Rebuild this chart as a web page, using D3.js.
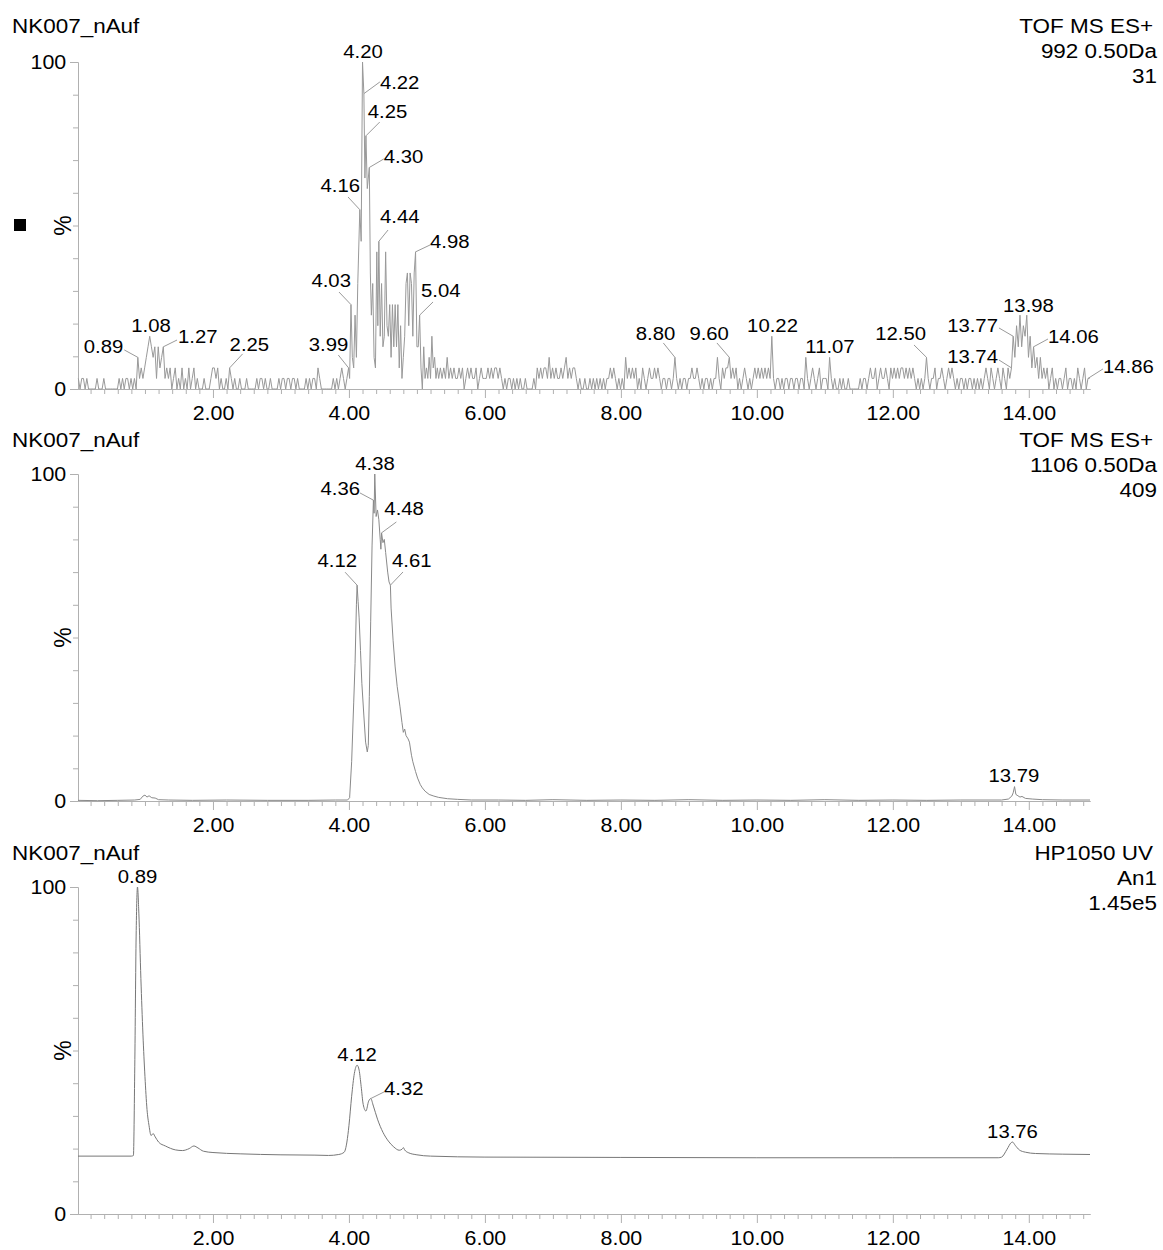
<!DOCTYPE html>
<html>
<head>
<meta charset="utf-8">
<script src="https://cdn.jsdelivr.net/npm/d3@7"></script>
<style>
  body { margin: 0; background: #fff; }
  svg { display: block; }
  text { font-family: "Liberation Sans", Arial, sans-serif; fill: #000; }
</style>
</head>
<body>
<svg id="chart" width="1163" height="1250"></svg>
<script>
// --- DATOS ---
const xMajor = [2, 4, 6, 8, 10, 12, 14];
const yMajor = [0, 100];
const sampleName = "NK007_nAuf";
const header1 = ["TOF MS ES+", "992 0.50Da", "31"];
const header2 = ["TOF MS ES+", "1106 0.50Da", "409"];
const header3 = ["HP1050 UV", "An1", "1.45e5"];

// panel 1: counts per scan (31 = 100%), one scan every 0.025 min
const ticMax = 31;
const ticStep = 0.025;
const tic0 = [1,0,1,1,0,1,0,0,0,0, 0,1,0,0,0,1,0,0,0,0, 0,0,0,0,1,0,1,0,1,1, 0,1,0,1,0,3,1,2,1,2]; // from 0.02
const tic1 = [3,4,5,4,3,4,1,4,2,3, 4,1,2,1,2,0,1,2,0,1, 0,2,0,1,0,2,0,1,2,0, 1,0,0,0,1,0,0,0,1,2]; // from 1.02
const tic2 = [2,1,2,0,1,0,0,1,0,2, 1,0,1,0,0,1,0,0,0,1, 0,0,0,0,0,1,0,1,1,0, 1,0,0,1,0,0,0,0,1,0];
const tic3 = [1,1,0,1,1,0,1,1,0,1, 0,0,0,0,1,0,1,0,1,1, 0,2,1,0,0,0,0,0,0,0, 1,0,1,0,1,2,1,0,1,2];
// main cluster, read scan by scan
const ticPeakT = [4.01,4.03,4.05,4.07,4.09,4.11,4.13,4.16,4.18,4.20,4.22,4.235,4.25,4.27,4.30,4.315,4.33,4.35,4.37,4.39,
  4.41,4.425,4.44,4.46,4.48,4.50,4.52,4.54,4.56,4.58,4.60,4.62,4.64,4.66,4.68,4.70,4.72,4.74,4.76,4.78,
  4.80,4.82,4.84,4.86,4.88,4.90,4.92,4.94,4.96,4.98,5.00,5.02,5.04,5.06,5.08,5.10,5.12,5.14,5.16,5.18,
  5.20,5.22,5.24,5.26,5.28,5.30,5.32,5.345];
const ticPeakC = [1,8,3,2,7,3,10,17,14,31,28,20,24,19,21,11,7,10,3,2,
  13,6,14,5,10,4,5,13,6,5,8,3,8,4,8,4,8,2,6,1,
  3,5,10,11,6,11,10,5,11,13,4,4,7,2,0,4,1,2,1,3,
  1,5,2,3,1,2,1,2];
const tic5 = [1,2,1,3,1,2,1,2,1,1, 2,1,2,0,1,2,1,2,1,1, 2,0,1,2,1,1]; // from 5.37
const tic6 = [1,2,1,2,1,2,2,1,2,1, 0,1,0,1,1,0,1,0,1,0, 1,0,0,1,0,0,0,0,1,0, 2,1,2,1,2,2,1,3,1,2];
const tic7 = [1,2,1,1,2,1,2,3,1,2, 1,2,2,1,0,1,0,0,1,0, 0,1,0,1,0,1,0,1,0,1, 0,1,1,2,1,2,1,0,1,0];
const tic8 = [1,0,3,1,2,1,2,1,2,0, 1,0,2,1,0,1,2,1,1,2, 1,2,1,0,1,1,0,1,1,0, 1,3,1,0,1,0,1,1,0,1];
const tic9 = [1,2,1,1,2,1,0,1,0,1, 1,0,1,0,1,1,3,1,0,2, 1,2,2,3,1,2,1,2,0,1, 0,1,2,1,0,1,0,1,2,1];
const tic10 = [2,1,2,1,2,1,2,1,5,1, 0,1,1,0,1,0,1,1,0,1, 1,0,1,1,0,1,1,0,3,1, 0,1,2,1,0,1,2,0,1,1];
const tic11 = [1,0,3,1,0,1,0,0,1,0, 1,0,0,1,0,0,0,0,0,0, 1,0,1,1,0,1,2,1,1,2, 0,1,2,1,1,2,1,0,2,1];
const tic12 = [2,1,2,1,2,2,1,2,1,2, 1,2,1,0,1,0,1,0,1,3, 1,0,1,1,2,0,1,1,2,1, 0,1,2,1,2,1,0,1,0,1];
const tic13 = [1,0,1,0,1,1,0,1,0,1, 0,1,0,1,2,1,0,2,1,0, 1,2,1,0,2,1,0,2,1,2, 5,3,6,4,7,4,6,5,7,3];
const tic14 = [5,2,4,2,3,1,3,1,2,1, 2,0,1,2,0,1,0,1,1,0, 1,2,0,1,1,0,1,0,2,1, 0,1,2,0,1,1];
const ticLabelT = [0.89,1.08,1.27,2.25,3.99,4.03,4.16,4.20,4.22,4.25,4.30,4.44,4.98,5.04,
  8.80,9.60,10.22,11.07,12.50,13.74,13.77,13.98,14.06,14.86];

// panel 2: % of 409
const eicT = [0.015,0.3,0.6,0.85,0.93,0.97,1.0,1.03,1.06,1.1,1.15,1.2,1.35,1.7,2.2,2.8,3.4,3.8,3.98,
  4.01,4.04,4.07,4.09,4.11,4.12,4.135,4.15,4.17,4.19,4.22,4.245,4.27,4.285,4.30,4.32,4.34,4.36,4.37,4.38,
  4.40,4.42,4.44,4.46,4.47,4.48,4.50,4.52,4.54,4.57,4.59,4.61,4.62,4.65,4.68,4.71,4.75,4.78,4.80,4.82,
  4.84,4.87,4.89,4.92,4.94,4.98,5.01,5.05,5.08,5.12,5.18,5.25,5.32,5.45,5.6,5.8,6.2,6.6,7.0,7.5,8.0,
  8.5,9.0,9.5,10.0,10.5,11.0,11.5,12.0,12.5,13.0,13.6,13.7,13.75,13.77,13.79,13.81,13.84,13.87,13.9,
  13.95,14.05,14.2,14.5,14.9];
const eicP = [0.2,0.1,0.2,0.3,0.5,1.5,1.8,1.2,1.6,1.0,0.9,0.4,0.3,0.2,0.3,0.2,0.2,0.3,0.3,
  1,12,30,42,60,66,61,56,46,36,26,18,15,17,32,55,78,92,88,100,
  87,89,86,80,77,82,79,80,76,70,67,66,59,49,41,35,29,24,21,22,
  20,19,18,14,12,9,7,5,4,3,2,1.5,1.1,0.7,0.5,0.3,0.3,0.2,0.4,0.2,0.3,
  0.2,0.4,0.2,0.3,0.2,0.4,0.2,0.3,0.2,0.3,0.3,0.6,1.5,2.5,4.4,2.0,1.6,1.2,1.4,
  0.8,0.6,0.4,0.3,0.3];
const eicLabelT = [4.12, 4.36, 4.38, 4.48, 4.61, 13.79];

// panel 3: UV, % of 1.45e5
const uvT = [0.015,0.8,0.83,0.85,0.87,0.89,0.91,0.94,0.97,1.0,1.03,1.06,1.09,1.12,1.15,1.2,1.3,1.45,1.55,
  1.65,1.72,1.78,1.86,2.0,2.4,3.0,3.5,3.7,3.85,3.93,3.97,4.0,4.04,4.08,4.12,4.15,4.18,4.21,4.25,4.29,
  4.32,4.36,4.42,4.5,4.58,4.66,4.74,4.78,4.80,4.82,4.88,5.0,5.2,6.0,8.0,10.0,12.0,13.55,13.6,13.68,
  13.74,13.76,13.8,13.86,13.95,14.1,14.5,14.9];
const uvP = [17.7,17.7,17.9,45,85,100,92,72,55,42,32,27,24,24.6,23.6,22,20.8,19.6,19.4,
  20.0,20.8,20.2,19.2,18.8,18.4,18.1,18.0,17.9,18.2,18.9,22,27,36,43,45.5,44,39,33.5,31.5,34.5,
  35.3,33,29,25,22.3,20.5,19.5,19.8,20.3,19.6,18.7,18.1,17.7,17.4,17.3,17.2,17.2,17.2,17.4,19.8,
  21.8,22,21,19.6,18.9,18.5,18.3,18.2];
const uvLabelT = [0.89, 4.12, 4.32, 13.76];

// --- POSICIÓN DE ETIQUETAS (leader dx, dy, text dx, dy, anchor) ---
const ticLabelPos = [
  [-13.5,-7.4,-14.5,-4.4,"end"], [null,null,1.3,-4.3,"middle"], [13.7,-6.8,14.7,-3.8,"start"],
  [13,-14,0,-17,"start"], [-10.3,-12.9,-0.3,-16.9,"end"], [-12,-12.6,0,-17.6,"end"],
  [-11.8,-12.7,0.2,-17.7,"end"], [null,null,0.5,-4,"middle"], [16,-11.7,16,-4.7,"start"],
  [13.8,-13.8,1.8,-17.8,"start"], [14.4,-8.5,14.4,-4.5,"start"], [9.2,-11.3,1.2,-18.3,"start"],
  [14.5,-6.9,14.5,-3.9,"start"], [13.4,-13.2,1.4,-18.2,"start"], [-11.6,-14.4,0.4,-17.4,"end"],
  [-12.4,-14.4,-0.4,-17.4,"end"], [null,null,0.7,-4.3,"middle"], [null,null,0.4,-4.4,"middle"],
  [-12.5,-12.4,-0.5,-17.4,"end"], [-12.5,-7.9,-13.5,-4.9,"end"], [-14.2,-8.3,-15.2,-4.3,"end"],
  [null,null,1.7,-3.2,"middle"], [14.4,-7.8,14.4,-3.8,"start"], [15,-9.5,15,-5.5,"start"]
];
const eicLabelPos = [
  [-12,-13,0,-18,"end"], [-13.4,-7.2,-13.4,-5.2,"end"], [null,null,0.2,-4,"middle"],
  [14.8,-10.9,2.8,-17.9,"start"], [12.6,-13.2,1.6,-18.2,"start"], [null,null,-0.6,-4.6,"middle"]
];
const uvLabelPos = [
  [null,null,0,-4,"middle"], [null,null,0,-4,"middle"], [13.3,-6.6,13.3,-3.6,"start"], [null,null,0,-4,"middle"]
];

// --- DIBUJO ---
const svg = d3.select("#chart");
const X0 = 78, X1 = 1090;
const x = d3.scaleLinear().domain([0.015, 14.9]).range([X0, X1]);
const AXIS = "#b0b0b0";

function txt(g, px, py, str, size, anchor) {
  return g.append("text")
    .attr("transform", `translate(${px},${py}) scale(1.07,1)`)
    .attr("text-anchor", anchor || "start")
    .style("font-size", size + "px")
    .text(str);
}

function styleAxis(g) {
  g.selectAll(".domain").attr("stroke", AXIS);
  g.selectAll(".tick line").attr("stroke", AXIS);
  g.selectAll(".tick text")
    .attr("fill", "#000")
    .style("font-size", "20px")
    .style("font-family", "'Liberation Sans', Arial, sans-serif");
}

function drawPanel(band, header, titleY) {
  const [yb, yt] = band;
  const yPct = d3.scaleLinear().domain([0, 100]).range([yb, yt]);
  const g = svg.append("g");

  txt(g, 12, titleY, sampleName, 21, "start");
  header.forEach((h, i) => txt(g, i === 0 ? 1153 : 1157, titleY + i * 25, h, 21, "end"));

  // eje y
  const minorY = d3.range(10, 100, 10);
  g.append("g").attr("transform", `translate(${X0},0)`)
    .call(d3.axisLeft(yPct).tickValues(minorY).tickSize(5).tickSizeOuter(0).tickFormat(""))
    .call(styleAxis);
  const ya = g.append("g").attr("transform", `translate(${X0},0)`)
    .call(d3.axisLeft(yPct).tickValues(yMajor).tickSize(8).tickPadding(3).tickSizeOuter(0).tickFormat(d3.format("d")))
    .call(styleAxis);
  ya.selectAll(".tick text").attr("transform", "scale(1.07,1)");

  // eje x
  const minorX = d3.range(1, 75).filter(i => i % 10 !== 0).map(i => i * 0.2);
  g.append("g").attr("transform", `translate(0,${yb})`)
    .call(d3.axisBottom(x).tickValues(minorX).tickSize(5).tickSizeOuter(0).tickFormat(""))
    .call(styleAxis);
  const xa = g.append("g").attr("transform", `translate(0,${yb})`)
    .call(d3.axisBottom(x).tickValues(xMajor).tickSize(9).tickPadding(8).tickSizeOuter(0).tickFormat(d3.format(".2f")))
    .call(styleAxis);
  xa.selectAll(".tick text").attr("transform", "scale(1.07,1)");

  g.append("text")
    .attr("transform", `translate(71,${(yb + yt) / 2}) rotate(-90)`)
    .attr("text-anchor", "middle")
    .style("font-size", "23px")
    .text("%");

  return { g, yPct };
}

function nearest(pts, t) {
  return pts.reduce((a, b) => Math.abs(b[0] - t) < Math.abs(a[0] - t) ? b : a);
}

function drawLabels(g, pts, ys, times, pos) {
  times.forEach((t, i) => {
    const p = nearest(pts, t);
    const px = x(p[0]), py = ys(p[1]);
    const [ldx, ldy, tdx, tdy, anchor] = pos[i];
    if (ldx !== null) {
      g.append("line")
        .attr("x1", px).attr("y1", py)
        .attr("x2", px + ldx).attr("y2", py + ldy)
        .attr("stroke", "#9a9a9a").attr("stroke-width", 1);
    }
    txt(g, px + tdx, py + tdy, t.toFixed(2), 19, anchor);
  });
}

// panel 1
const p1 = drawPanel([389, 62], header1, 33);
svg.append("rect").attr("x", 14).attr("y", 219).attr("width", 12).attr("height", 12).attr("fill", "#000");
const yCount = d3.scaleLinear().domain([0, ticMax]).range([389, 62]);
let ticPts = [];
[[0.02, tic0], [1.02, tic1], [2.02, tic2], [3.02, tic3], [5.37, tic5], [6.02, tic6], [7.02, tic7],
 [8.02, tic8], [9.02, tic9], [10.02, tic10], [11.02, tic11], [12.02, tic12], [13.02, tic13], [14.02, tic14]]
  .forEach(([t0, arr]) => arr.forEach((c, i) => ticPts.push([t0 + i * ticStep, c])));
ticPeakT.forEach((t, i) => ticPts.push([t, ticPeakC[i]]));
ticPts.sort((a, b) => a[0] - b[0]);

p1.g.append("path")
  .datum(ticPts)
  .attr("fill", "none").attr("stroke", "#999").attr("stroke-width", 1)
  .attr("d", d3.line().x(d => x(d[0])).y(d => yCount(d[1])));
drawLabels(p1.g, ticPts, yCount, ticLabelT, ticLabelPos);

// panel 2
const p2 = drawPanel([801, 474], header2, 447);
const eicPts = eicT.map((t, i) => [t, eicP[i]]);
p2.g.append("path")
  .datum(eicPts)
  .attr("fill", "none").attr("stroke", "#8a8a8a").attr("stroke-width", 1)
  .attr("d", d3.line().x(d => x(d[0])).y(d => p2.yPct(d[1])));
drawLabels(p2.g, eicPts, p2.yPct, eicLabelT, eicLabelPos);

// panel 3
const p3 = drawPanel([1214, 887], header3, 860);
const uvPts = uvT.map((t, i) => [t, uvP[i]]);
p3.g.append("path")
  .datum(uvPts)
  .attr("fill", "none").attr("stroke", "#777").attr("stroke-width", 1)
  .attr("d", d3.line().curve(d3.curveMonotoneX).x(d => x(d[0])).y(d => p3.yPct(d[1])));
drawLabels(p3.g, uvPts, p3.yPct, uvLabelT, uvLabelPos);
</script>
</body>
</html>
